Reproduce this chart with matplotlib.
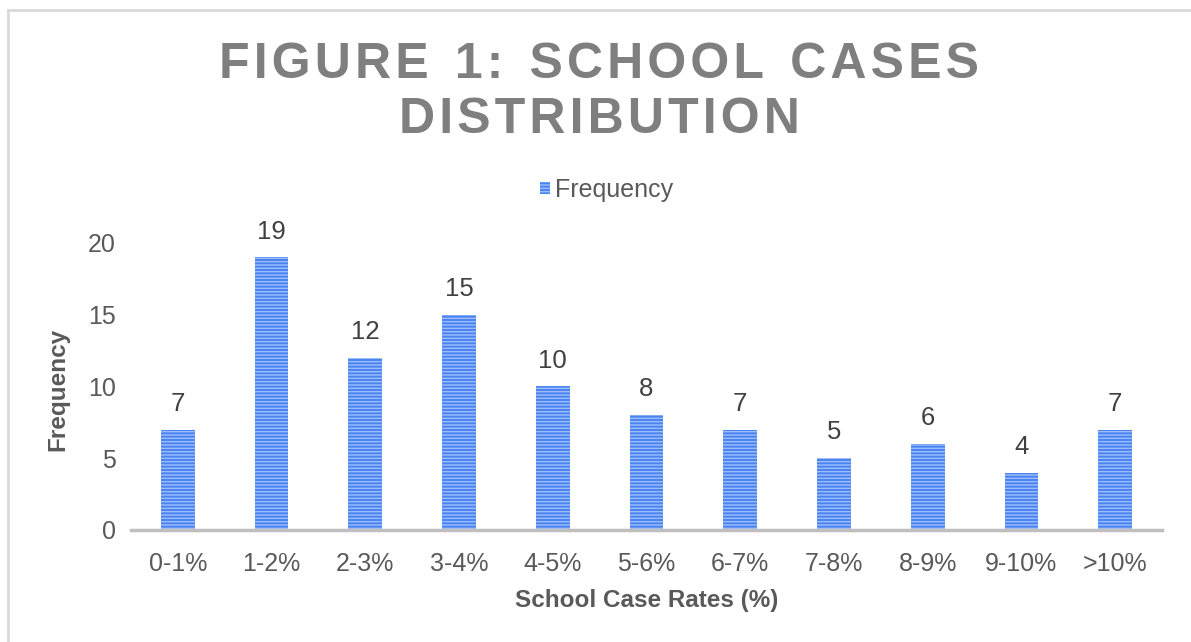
import matplotlib
matplotlib.use("Agg")
import matplotlib.pyplot as plt
import numpy as np

categories = ["0-1%", "1-2%", "2-3%", "3-4%", "4-5%", "5-6%",
              "6-7%", "7-8%", "8-9%", "9-10%", ">10%"]
frequency = [7, 19, 12, 15, 10, 8, 7, 5, 6, 4, 7]

plt.rcParams['font.family'] = ['Liberation Sans', 'DejaVu Sans']
plt.rcParams['hatch.linewidth'] = 1.0


def spaced(s, n=1):
    # fake letter spacing with hair spaces
    return ('\u200a' * n).join(s)


fig = plt.figure(figsize=(11.91, 6.42), dpi=100)
ax = fig.add_axes([0.110, 0.1745, 0.8657, 0.447])

x = np.arange(len(categories))
bars = ax.bar(x, frequency, width=0.36, color='#4a84f0', edgecolor='#9dbdfa',
              linewidth=0, hatch='-----', label='Frequency')

for xi, v in zip(x, frequency):
    ax.text(xi, v + 1.8, str(v), ha='center', va='center', fontsize=18.5, color='#404040')

ax.set_xlim(-0.5, len(categories) - 0.5)
ax.set_ylim(0, 20)
ax.set_yticks([0, 5, 10, 15, 20])
ax.set_xticks(x)
ax.set_xticklabels(categories)
ax.tick_params(axis='both', length=0, labelsize=18, labelcolor='#595959')
ax.tick_params(axis='x', pad=16)
ax.tick_params(axis='y', pad=11)

for s in ['top', 'right', 'left']:
    ax.spines[s].set_visible(False)
ax.spines['bottom'].set_color('#bfbfbf')
ax.spines['bottom'].set_linewidth(2.5)

ax.set_xlabel('School Case Rates (%)', fontsize=17.5, fontweight='bold', color='#595959')
ax.set_ylabel('Frequency', fontsize=17.5, fontweight='bold', color='#595959')
ax.xaxis.set_label_coords(0.5, -0.205)
ax.yaxis.set_label_coords(-0.071, 0.488)
ax.yaxis.label.set_va('center')

ax.legend(loc='center', bbox_to_anchor=(0.461, 1.185), frameon=False, fontsize=18,
          handlelength=0.4, handleheight=0.4, handletextpad=0.2, labelcolor='#595959')

gap = '\u200a\u200a \u200a'
title1 = gap.join(spaced(w) for w in ['FIGURE', '1:', 'SCHOOL', 'CASES'])
fig.text(0.503, 0.898, title1, ha='center', va='center', fontsize=36,
         fontweight='bold', color='#7f7f7f')
fig.text(0.503, 0.813, spaced('DISTRIBUTION'), ha='center', va='center', fontsize=36,
         fontweight='bold', color='#7f7f7f')

# outer chart frame (top and left edges visible)
fig.add_artist(plt.Line2D([8 / 1191, 1], [1 - 10 / 642, 1 - 10 / 642], color='#d9d9d9', lw=2))
fig.add_artist(plt.Line2D([8 / 1191, 8 / 1191], [0, 1 - 10 / 642], color='#d9d9d9', lw=2))

fig.savefig('out.png', dpi=100)
